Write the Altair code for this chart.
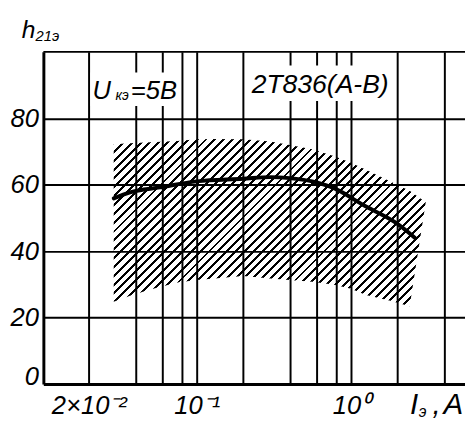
import altair as alt
import numpy as np
import pandas as pd

# ---------------- data ----------------
# hatched spread band of h21e (upper / lower limits) vs emitter current, A
band_x = [0.029, 0.037, 0.05, 0.075, 0.1, 0.13, 0.2, 0.3, 0.4, 0.56, 0.78, 1.0, 1.25, 1.8, 2.4, 3.05]
band_upper = [72.2, 72.5, 72.8, 73.2, 73.7, 73.8, 73.7, 73.0, 72.0, 70.7, 68.6, 66.6, 64.5, 61.0, 58.2, 54.7]
band_lower = [24.8, 26.6, 28.5, 30.6, 31.3, 31.8, 32.5, 31.8, 31.3, 30.8, 29.9, 28.7, 26.8, 25.1, 23.4, 54.7]

# typical (thick) curve
center_x = [0.029, 0.037, 0.058, 0.1, 0.2, 0.3, 0.4, 0.56, 0.78, 1.21, 1.96, 2.6]
center_y = [55.9, 57.7, 59.2, 61.0, 61.8, 62.3, 62.0, 61.0, 58.9, 53.8, 48.5, 44.0]

# grid / ticks
grid_x = [0.02, 0.04, 0.06, 0.08, 0.1, 0.2, 0.4, 0.6, 0.8, 1.0, 2.0, 4.0]
x_tick_text = {0.02: "2×10⁻²", 0.1: "10⁻¹", 1.0: "10⁰"}
grid_y = [0, 20, 40, 60, 80]

# annotations inside the plot (white boxes cut the grid)
box_x0 = [0.0205, 0.208]
box_x1 = [0.077, 1.82]
box_y0 = [83.7, 85.2]
box_y1 = [93.8, 95.9]

note_text = ["U", "кэ", "=5В", "2Т836(А-В)"]
note_x = [0.0211, 0.0298, 0.0374, 0.227]
note_y = [85.8, 85.4, 85.8, 87.6]
note_size = [26, 14, 26, 27]

# ---------------- layout / style ----------------
W, H = 429, 338
XMIN, XMAX = 0.01015, 5.48
YMIN, YMAX = 0, 100
FONT = "Liberation Sans, Arial, sans-serif"
INK = "#000000"
CLEAR = "rgba(255,255,255,0)"


def px(v):
    return W * (np.log10(v) - np.log10(XMIN)) / (np.log10(XMAX) - np.log10(XMIN))


def py(v):
    return H * (1 - (v - YMIN) / (YMAX - YMIN))


# hatch pattern built as a striped linear gradient over the band's bounding box
bw = px(max(band_x)) - px(min(band_x))
bh = py(min(band_lower)) - py(max(band_upper))
span = bw + bh
period, ink_w = 9.0, 3.0
stops = [alt.GradientStop(offset=0, color=CLEAR)]
pos = 3.0
while pos + ink_w < span:
    s = round(pos / span, 5)
    e = round((pos + ink_w) / span, 5)
    stops += [alt.GradientStop(offset=s, color=CLEAR), alt.GradientStop(offset=s, color=INK),
              alt.GradientStop(offset=e, color=INK), alt.GradientStop(offset=e, color=CLEAR)]
    pos += period
stops.append(alt.GradientStop(offset=1, color=CLEAR))
den = bw * bw + bh * bh
hatch = alt.Gradient(gradient="linear", stops=stops, x1=0, y1=0,
                     x2=span * bw / den, y2=span * bh / den)

label_expr = " : ".join(f"datum.value == {v} ? '{t}'" for v, t in x_tick_text.items()) + " : ''"

xscale = alt.Scale(type="log", domain=[XMIN, XMAX], nice=False)
yscale = alt.Scale(domain=[YMIN, YMAX], nice=False, zero=False)

x_axis = alt.Axis(values=grid_x, labelExpr=label_expr, title=None, ticks=False, grid=True,
                  gridColor=INK, gridWidth=2, gridOpacity=1, domainColor=INK, domainWidth=3,
                  labelFont=FONT, labelFontSize=26, labelFontStyle="italic", labelColor=INK,
                  labelPadding=9, labelOverlap=False, labelFlush=False)
y_axis = alt.Axis(values=grid_y, title=None, ticks=False, grid=True, gridColor=INK, gridWidth=2,
                  gridOpacity=1, domainColor=INK, domainWidth=3, labelFont=FONT, labelFontSize=26,
                  labelFontStyle="italic", labelColor=INK, labelPadding=5,
                  labelOffset={"condition": {"test": "datum.value == 0", "value": -8}, "value": 0})


def X(f):
    return alt.X(f, type="quantitative", scale=xscale, axis=x_axis)


def Y(f):
    return alt.Y(f, type="quantitative", scale=yscale, axis=y_axis)


band_df = pd.DataFrame({"x": band_x, "upper": band_upper, "lower": band_lower})
center_df = pd.DataFrame({"x": center_x, "y": center_y})
box_df = pd.DataFrame({"x0": box_x0, "x1": box_x1, "y0": box_y0, "y1": box_y1})
note_df = pd.DataFrame({"x": note_x, "y": note_y, "text": note_text, "size": note_size})

band = alt.Chart(band_df).mark_area(interpolate="linear", color=hatch, opacity=1, strokeWidth=0).encode(
    x=X("x"), y=Y("upper"), y2="lower")

center = alt.Chart(center_df).mark_line(color=INK, strokeWidth=4, interpolate="monotone",
                                        strokeCap="round").encode(x=X("x"), y=Y("y"))

boxes = alt.Chart(box_df).mark_rect(color="white", opacity=1).encode(
    x=X("x0"), x2="x1", y=Y("y0"), y2="y1")

notes = alt.Chart(note_df).mark_text(font=FONT, fontStyle="italic", align="left",
                                     baseline="alphabetic", color=INK).encode(
    x=X("x"), y=Y("y"), text="text:N", size=alt.Size("size:Q", scale=None, legend=None))

top_df = pd.DataFrame({"y": [YMAX]})
top = alt.Chart(top_df).mark_rule(color=INK, strokeWidth=2).encode(y=Y("y"))

one = pd.DataFrame({"k": [0]})


def label(txt, x, y, size):
    return alt.Chart(one).mark_text(font=FONT, fontStyle="italic", align="left",
                                    baseline="alphabetic", color=INK, fontSize=size).encode(
        x=alt.value(x), y=alt.value(y), text=alt.value(txt))


titles = [
    label("h", -22, -14, 25),
    label("21э", -8, -11, 15),
    label("I", 373, 368, 30),
    label("э", 382, 372, 16),
    label(",", 396, 368, 30),
    label("А", 407, 368, 30),
]

chart = alt.layer(band, center, boxes, notes, top, *titles).properties(
    width=W, height=H,
    padding={"left": 36, "top": 41, "right": 0, "bottom": 36},
    autosize=alt.AutoSizeParams(type="none"),
).configure_view(stroke=None)

chart.save("out.html", embed_options={"renderer": "svg", "actions": False})
